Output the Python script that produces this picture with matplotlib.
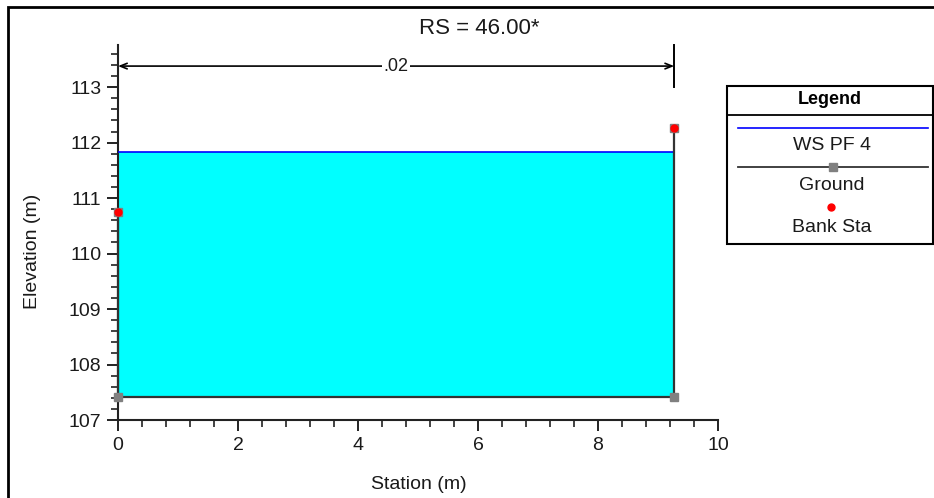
import matplotlib
matplotlib.use("Agg")
import matplotlib.pyplot as plt
import numpy as np
from matplotlib.patches import Rectangle
from matplotlib.ticker import MultipleLocator

plt.rcParams["font.family"] = ["Liberation Sans", "DejaVu Sans"]

# cross-section data
station = np.array([0.0, 0.0, 9.27, 9.27])
ground = np.array([110.75, 107.42, 107.42, 112.27])
bank_sta = [0.0, 9.27]
bank_elev = [110.75, 112.27]
ws_elev = 111.83
mann_n = ".02"
rs_label = "RS = 46.00*"
legend_labels = ["WS PF 4", "Ground", "Bank Sta"]

W, H = 934, 498
TXT = "#1a1a1a"

fig = plt.figure(figsize=(W / 100, H / 100), dpi=100)
fig.patch.set_facecolor("white")

# outer frame (right/bottom edges fall off the image)
fig.add_artist(Rectangle((8 / W, -0.1), 1.2, 1.1 - 7 / H, transform=fig.transFigure,
                         fill=False, edgecolor="black", linewidth=2))

ax = fig.add_axes([118 / W, 1 - 420 / H, 600 / W, 375 / H])
ax.set_xlim(0, 10)
ax.set_ylim(107, 113.76)

ax.fill_between(station, np.minimum(ground, ws_elev), ws_elev, color="#00ffff", linewidth=0)
ax.plot([station[0], station[-1]], [ws_elev, ws_elev], color="#0000ff", linewidth=1.2, zorder=3)
ax.plot(station, ground, color="#333333", linewidth=1.6, zorder=4, clip_on=False)
ax.plot(station, ground, linestyle="none", marker="s", markersize=6,
        color="#808080", zorder=5, clip_on=False)
ax.plot(bank_sta, bank_elev, linestyle="none", marker="o", markersize=5,
        color="#ff0000", zorder=6, clip_on=False)

# Manning's n dimension line
y_dim = 113.38
ax.annotate("", xy=(station[0], y_dim), xytext=(station[-1], y_dim),
            arrowprops=dict(arrowstyle="<->,head_length=0.5,head_width=0.2",
                            color="black", linewidth=1.2, shrinkA=0, shrinkB=0))
ax.plot([station[-1], station[-1]], [113.0, 113.76], color="black", linewidth=1.4, clip_on=False)
ax.text((station[0] + station[-1]) / 2, y_dim, mann_n, ha="center", va="center",
        fontsize=13, color=TXT, bbox=dict(facecolor="white", edgecolor="none", pad=1))

for s in ["top", "right"]:
    ax.spines[s].set_visible(False)
for s in ["left", "bottom"]:
    ax.spines[s].set_linewidth(1.5)
    ax.spines[s].set_color("#222222")

ax.xaxis.set_major_locator(MultipleLocator(2))
ax.xaxis.set_minor_locator(MultipleLocator(0.4))
ax.yaxis.set_major_locator(MultipleLocator(1))
ax.yaxis.set_minor_locator(MultipleLocator(0.2))
ax.tick_params(which="major", length=8, width=1.4, labelsize=14, colors="#222222",
               labelcolor=TXT, pad=4)
ax.tick_params(which="minor", length=5, width=1.2, colors="#222222")

ax.set_xlabel("Station (m)", fontsize=14, color=TXT, va="center")
ax.set_ylabel("Elevation (m)", fontsize=14, color=TXT, va="center")
ax.xaxis.set_label_coords(0.502, -0.173)
ax.yaxis.set_label_coords(-0.143, 0.45)

fig.text(479 / W, 1 - 28 / H, rs_label, ha="center", va="center", fontsize=16, color=TXT)

# legend panel, drawn in pixel coordinates
lg = fig.add_axes([727 / W, 1 - 244 / H, 206 / W, 158 / H])
lg.set_xlim(727, 933)
lg.set_ylim(244, 86)
lg.axis("off")
lg.add_patch(Rectangle((727, 86), 206, 158, fill=False, edgecolor="black", linewidth=1.5,
                       clip_on=False))
lg.plot([727, 933], [115, 115], color="black", linewidth=1.3)
lg.text(830, 100, "Legend", ha="center", va="center", fontsize=13, fontweight="bold", color="black")
lg.plot([738, 928], [128, 128], color="#0000ff", linewidth=1.2)
lg.text(832, 146, legend_labels[0], ha="center", va="center", fontsize=14, color=TXT)
lg.plot([738, 928], [167, 167], color="#333333", linewidth=1.3)
lg.plot([833], [167], marker="s", markersize=6, color="#808080")
lg.text(832, 186, legend_labels[1], ha="center", va="center", fontsize=14, color=TXT)
lg.plot([831], [207], marker="o", markersize=5, color="#ff0000")
lg.text(832, 227, legend_labels[2], ha="center", va="center", fontsize=14, color=TXT)

fig.savefig("out.png", dpi=100, facecolor="white")
